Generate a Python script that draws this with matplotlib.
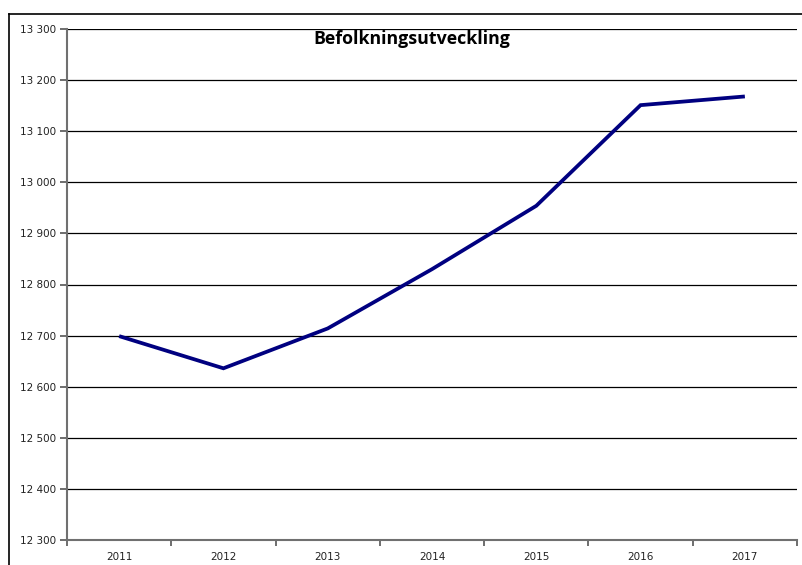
import numpy as np
import matplotlib
matplotlib.use("Agg")
import matplotlib.pyplot as plt
from matplotlib.lines import Line2D

years = ["2011", "2012", "2013", "2014", "2015", "2016", "2017"]
population = [12699, 12636, 12714, 12830, 12954, 13151, 13168]
y_ticks = list(range(12300, 13301, 100))
y_labels = ["{:,}".format(v).replace(",", " ") for v in y_ticks]

W, H = 803, 565
fig = plt.figure(figsize=(W / 100, H / 100), dpi=100)
ax = fig.add_axes([67 / W, (H - 540) / H, (797 - 67) / W, (540 - 29) / H])

x = np.arange(len(years))
ax.plot(x, population, color="#000080", linewidth=2.7, solid_joinstyle="miter",
        solid_capstyle="butt", zorder=3)

ax.set_xlim(-0.5, len(years) - 0.5)
ax.set_ylim(12300, 13300)
ax.set_yticks(y_ticks)
ax.set_yticklabels(y_labels, fontsize=7.5, family="DejaVu Sans", color="#222222")
ax.set_xticks(x)
ax.set_xticklabels(years, fontsize=7.5, family="DejaVu Sans", color="#222222")
ax.set_xticks(np.arange(-0.5, len(years)), minor=True)
ax.tick_params(axis="x", which="major", length=0, pad=9)
ax.tick_params(axis="x", which="minor", length=4, width=1.2, color="#555555", direction="out")
ax.tick_params(axis="y", length=5, width=1.2, color="#555555", pad=3)

ax.grid(axis="y", color="black", linewidth=0.9)
ax.set_axisbelow(True)
for side in ["top", "right"]:
    ax.spines[side].set_visible(False)
for side in ["left", "bottom"]:
    ax.spines[side].set_color("#707070")
    ax.spines[side].set_linewidth(1.5)

ax.text(0.472, 0.981, "Befolkningsutveckling", transform=ax.transAxes,
        ha="center", va="center", fontsize=12.8, fontweight="bold", family="Open Sans")

# outer chart frame (only top and left edges visible)
fig.add_artist(Line2D([9 / W, 1], [1 - 14 / H, 1 - 14 / H], color="black", linewidth=1.2))
fig.add_artist(Line2D([9 / W, 9 / W], [0, 1 - 14 / H], color="black", linewidth=1.2))

fig.savefig("out.png", dpi=100, facecolor="white")
